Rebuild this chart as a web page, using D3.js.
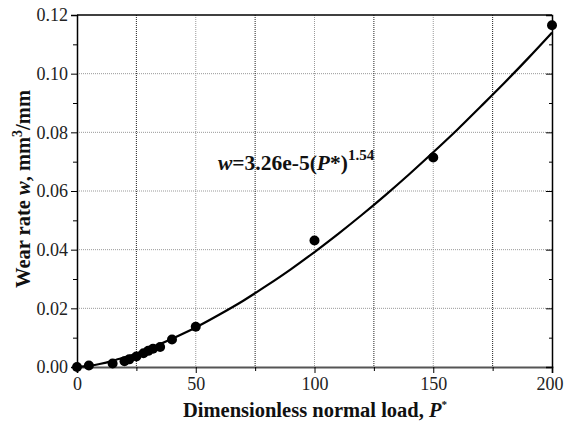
<!DOCTYPE html>
<html>
<head>
<meta charset="utf-8">
<script src="https://cdn.jsdelivr.net/npm/d3@7"></script>
<style>
  body { margin: 0; background: #fff; }
  text { font-family: "Liberation Serif", "Times New Roman", serif; }
</style>
</head>
<body>
<div id="chart"></div>
<script>
// Measured points (dimensionless load, wear rate)
var loadP = [0, 5, 15, 20, 22, 25, 28, 30, 32, 35, 40, 50, 100, 150, 200];
var wearW = [0.0000, 0.0005, 0.0012, 0.0020, 0.0026, 0.0036, 0.0047, 0.0055, 0.0062, 0.0068, 0.0094, 0.0137, 0.0431, 0.0714, 0.1165];

// Fitted curve
var fitP = [0, 5, 10, 15, 20, 25, 30, 35, 40, 45, 50, 60, 70, 80, 90, 100, 110, 120, 130, 140, 150, 160, 170, 180, 190, 200];
var fitW = [0, 0.0004, 0.0011, 0.0021, 0.0033, 0.0046, 0.0061, 0.0078, 0.0096, 0.0115, 0.0135, 0.0179, 0.0226, 0.0278, 0.0333, 0.0392, 0.0454, 0.0519, 0.0587, 0.0658, 0.0732, 0.0808, 0.0888, 0.0969, 0.1053, 0.1140];

var xTicks = [0, 50, 100, 150, 200];
var xMinor = [25, 75, 125, 175];
var yTicks = [0, 0.02, 0.04, 0.06, 0.08, 0.10, 0.12];
var yMinor = [0.01, 0.03, 0.05, 0.07, 0.09, 0.11];

var svgWidth = 564;
var svgHeight = 427;
var margin = { top: 15, right: 12, bottom: 60, left: 77 };
var chartWidth = svgWidth - margin.left - margin.right;
var chartHeight = svgHeight - margin.top - margin.bottom;

var svg = d3.select("#chart")
  .append("svg")
  .attr("width", svgWidth)
  .attr("height", svgHeight);

var chartGroup = svg.append("g")
  .attr("transform", `translate(${margin.left}, ${margin.top})`);

var xScale = d3.scaleLinear().domain([0, 200]).range([0, chartWidth]);
var yScale = d3.scaleLinear().domain([0, 0.12]).range([chartHeight, 0]);

// Grid lines
chartGroup.selectAll(".hgrid")
  .data(yTicks.slice(1, -1))
  .enter()
  .append("line")
  .attr("x1", 0).attr("x2", chartWidth)
  .attr("y1", d => yScale(d)).attr("y2", d => yScale(d))
  .attr("stroke", "#999").attr("stroke-width", 1)
  .attr("stroke-dasharray", "1,1");

chartGroup.selectAll(".vgrid")
  .data(xTicks.slice(1, -1))
  .enter()
  .append("line")
  .attr("x1", d => xScale(d)).attr("x2", d => xScale(d))
  .attr("y1", 0).attr("y2", chartHeight)
  .attr("stroke", "#999").attr("stroke-width", 1)
  .attr("stroke-dasharray", "1,1");

chartGroup.selectAll(".vgrid2")
  .data(xMinor)
  .enter()
  .append("line")
  .attr("x1", d => xScale(d)).attr("x2", d => xScale(d))
  .attr("y1", 0).attr("y2", chartHeight)
  .attr("stroke", "#222").attr("stroke-width", 1)
  .attr("stroke-dasharray", "1,1");

// Axes
var bottomAxis = d3.axisBottom(xScale).tickValues(xTicks).tickSize(6).tickPadding(4);
var leftAxis = d3.axisLeft(yScale).tickValues(yTicks).tickFormat(d3.format(".2f")).tickSize(6).tickPadding(3);

var xAxis = chartGroup.append("g")
  .attr("transform", `translate(0, ${chartHeight})`)
  .call(bottomAxis);
xAxis.select(".domain").attr("stroke", "#555").attr("stroke-width", 2);

var yAxis = chartGroup.append("g").call(leftAxis);
yAxis.select(".domain").attr("stroke-width", 1.5);

[xAxis, yAxis].forEach(function(ax) {
  ax.selectAll("text")
    .attr("font-family", "Liberation Serif, serif")
    .attr("font-size", 18)
    .attr("fill", "#222");
});
// keep the last x label inside the window
xAxis.selectAll(".tick text").filter(d => d === 200)
  .attr("text-anchor", "end").attr("dx", 11);

// Minor ticks
chartGroup.append("g")
  .attr("transform", `translate(0, ${chartHeight})`)
  .call(d3.axisBottom(xScale).tickValues(xMinor).tickSize(4).tickFormat(""))
  .select(".domain").remove();
chartGroup.append("g")
  .call(d3.axisLeft(yScale).tickValues(yMinor).tickSize(4).tickFormat(""))
  .select(".domain").remove();

// Right and top frame
var rightAxis = chartGroup.append("g")
  .attr("transform", `translate(${chartWidth}, 0)`)
  .call(d3.axisLeft(yScale).tickValues(yTicks).tickSize(6).tickFormat(""));
rightAxis.select(".domain").attr("stroke-width", 1.5);
chartGroup.append("g")
  .attr("transform", `translate(${chartWidth}, 0)`)
  .call(d3.axisLeft(yScale).tickValues(yMinor).tickSize(3).tickFormat(""))
  .select(".domain").remove();

chartGroup.append("line")
  .attr("x1", 0).attr("x2", chartWidth)
  .attr("y1", 0).attr("y2", 0)
  .attr("stroke", "#000").attr("stroke-width", 1.5);

// Fitted curve
var line = d3.line()
  .x((d, i) => xScale(fitP[i]))
  .y(d => yScale(d))
  .curve(d3.curveMonotoneX);

chartGroup.append("path")
  .datum(fitW)
  .attr("d", line)
  .attr("fill", "none")
  .attr("stroke", "#000")
  .attr("stroke-width", 2.2);

// Data points
chartGroup.selectAll("circle")
  .data(wearW)
  .enter()
  .append("circle")
  .attr("cx", (d, i) => xScale(loadP[i]))
  .attr("cy", d => yScale(d))
  .attr("r", 5)
  .attr("fill", "#000");

// Equation annotation
var eq = svg.append("text")
  .attr("x", 218)
  .attr("y", 170)
  .attr("font-size", 21.5)
  .attr("font-weight", "bold")
  .attr("fill", "#111");
eq.append("tspan").attr("font-style", "italic").text("w");
eq.append("tspan").text("=3.26e-5(");
eq.append("tspan").attr("font-style", "italic").text("P");
eq.append("tspan").text("*)");
eq.append("tspan").attr("dy", -10).attr("font-size", 15).text("1.54");

// Axis titles
var xt = svg.append("text")
  .attr("x", 315)
  .attr("y", 417)
  .attr("text-anchor", "middle")
  .attr("font-size", 20.5)
  .attr("font-weight", "bold")
  .attr("fill", "#111");
xt.append("tspan").text("Dimensionless normal load, ");
xt.append("tspan").attr("font-style", "italic").text("P");
xt.append("tspan").attr("dy", -9).attr("font-size", 11).text("*");

var yt = svg.append("text")
  .attr("transform", `translate(30, ${margin.top + chartHeight / 2 - 2}) rotate(-90)`)
  .attr("text-anchor", "middle")
  .attr("font-size", 20.5)
  .attr("font-weight", "bold")
  .attr("fill", "#111");
yt.append("tspan").text("Wear rate ");
yt.append("tspan").attr("font-style", "italic").text("w");
yt.append("tspan").text(", mm");
yt.append("tspan").attr("dy", -8).attr("font-size", 14).text("3");
yt.append("tspan").attr("dy", 8).text("/mm");
</script>
</body>
</html>
